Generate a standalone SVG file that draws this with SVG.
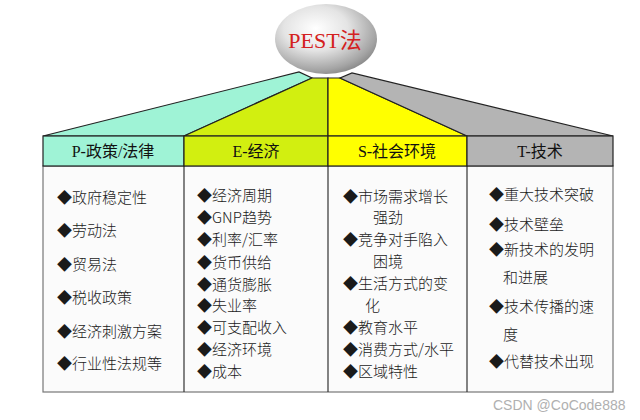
<svg xmlns="http://www.w3.org/2000/svg" width="640" height="420" viewBox="0 0 640 420">
<defs>
<radialGradient id="ball" cx="0.4" cy="0.35" r="0.7">
<stop offset="0" stop-color="#ffffff"/>
<stop offset="0.45" stop-color="#e4e4e4"/>
<stop offset="0.85" stop-color="#a4a4a4"/>
<stop offset="1" stop-color="#858585"/>
</radialGradient>
<style>
.hd{font-family:"Liberation Serif","Noto Sans CJK SC",serif;font-size:16px;fill:#111;text-anchor:middle}
.it{font-family:"Noto Sans CJK SC",sans-serif;font-size:15px;font-weight:300;fill:#1a1a1a}
.cell{stroke:#222;stroke-width:1.2}
</style>
</defs>
<rect width="640" height="420" fill="#ffffff"/>
<g id="fan">
<polygon points="43,136 299,72 312,78 184,136" fill="#9ff3d6" stroke="#222" stroke-width="1.2"/>
<polygon points="184,136 312,78 328,78 328,136" fill="#d2ef10" stroke="#222" stroke-width="1.2"/>
<polygon points="328,136 328,78 340,78 467,136" fill="#ffff00" stroke="#222" stroke-width="1.2"/>
<polygon points="467,136 340,78 352,73 613,136" fill="#b4b4b4" stroke="#222" stroke-width="1.2"/>
</g>
<g id="title">
<ellipse cx="326" cy="39" rx="51" ry="35" fill="url(#ball)"/>
<text x="325" y="48" font-family="Liberation Serif,'Noto Sans CJK SC',serif" font-size="22" fill="#d42020" text-anchor="middle">PEST法</text>
</g>
<g id="body">
<rect x="43" y="166" width="570" height="226" fill="#fbfbfb" stroke="#777" stroke-width="1.2"/>
<line x1="184" y1="166" x2="184" y2="392" stroke="#333" stroke-width="1.2"/>
<line x1="328" y1="166" x2="328" y2="392" stroke="#333" stroke-width="1.2"/>
<line x1="467" y1="166" x2="467" y2="392" stroke="#333" stroke-width="1.2"/>
</g>
<g id="P">
<rect class="cell" x="43" y="136" width="141" height="30" fill="#9ff3d6"/>
<text class="hd" x="113" y="157">P-政策/法律</text>
<text class="it" x="57" y="203">◆政府稳定性</text>
<text class="it" x="57" y="236">◆劳动法</text>
<text class="it" x="57" y="270">◆贸易法</text>
<text class="it" x="57" y="303">◆税收政策</text>
<text class="it" x="57" y="337">◆经济刺激方案</text>
<text class="it" x="57" y="369">◆行业性法规等</text>
</g>
<g id="E">
<rect class="cell" x="184" y="136" width="144" height="30" fill="#d2ef10"/>
<text class="hd" x="256" y="157">E-经济</text>
<text class="it" x="197" y="201">◆经济周期</text>
<text class="it" x="197" y="223">◆GNP趋势</text>
<text class="it" x="197" y="245">◆利率/汇率</text>
<text class="it" x="197" y="268">◆货币供给</text>
<text class="it" x="197" y="290">◆通货膨胀</text>
<text class="it" x="197" y="311">◆失业率</text>
<text class="it" x="197" y="333">◆可支配收入</text>
<text class="it" x="197" y="355">◆经济环境</text>
<text class="it" x="197" y="377">◆成本</text>
</g>
<g id="S">
<rect class="cell" x="328" y="136" width="139" height="30" fill="#ffff00"/>
<text class="hd" x="397" y="157">S-社会环境</text>
<text class="it" x="343" y="202">◆市场需求增长</text>
<text class="it" x="373" y="223">强劲</text>
<text class="it" x="343" y="245">◆竞争对手陷入</text>
<text class="it" x="373" y="267">困境</text>
<text class="it" x="343" y="289">◆生活方式的变</text>
<text class="it" x="365" y="311">化</text>
<text class="it" x="343" y="333">◆教育水平</text>
<text class="it" x="343" y="355">◆消费方式/水平</text>
<text class="it" x="343" y="377">◆区域特性</text>
</g>
<g id="T">
<rect class="cell" x="467" y="136" width="146" height="30" fill="#b4b4b4"/>
<text class="hd" x="540" y="157">T-技术</text>
<text class="it" x="489" y="200">◆重大技术突破</text>
<text class="it" x="489" y="230">◆技术壁垒</text>
<text class="it" x="489" y="255">◆新技术的发明</text>
<text class="it" x="503" y="283">和进展</text>
<text class="it" x="489" y="312">◆技术传播的速</text>
<text class="it" x="503" y="340">度</text>
<text class="it" x="489" y="367">◆代替技术出现</text>
</g>
<g id="connectors"></g>
<text x="493" y="410" font-family="Liberation Sans,sans-serif" font-size="14" fill="#b0b0b0">CSDN @CoCode888</text>
</svg>
